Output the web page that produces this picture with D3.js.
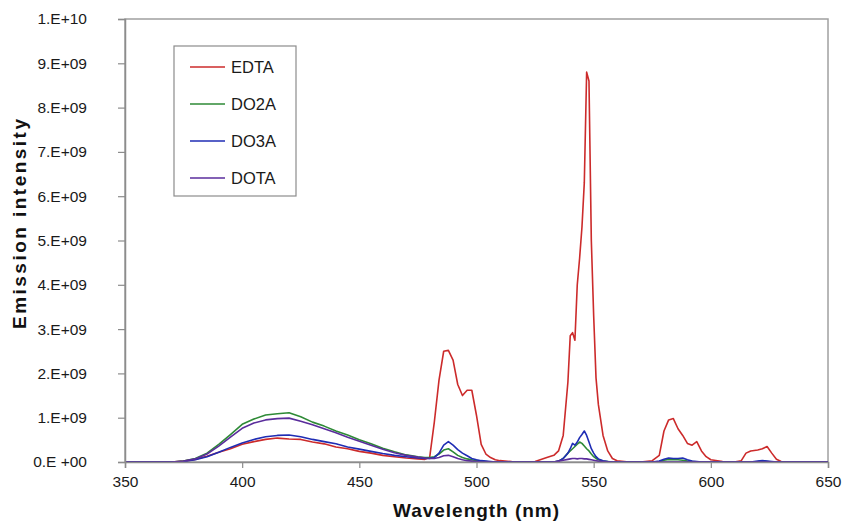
<!DOCTYPE html>
<html>
<head>
<meta charset="utf-8">
<script src="https://cdn.jsdelivr.net/npm/d3@7"></script>
<style>
  html, body { margin: 0; padding: 0; background: #fff; }
  svg { display: block; font-family: Arial, "Liberation Sans", sans-serif; }
</style>
</head>
<body>
<svg id="chart" width="844" height="524"></svg>
<script>
// Emission spectra of the four complexes; intensities in units of 1e9.
const wavelengths = [350,360,370,375,380,385,390,395,400,405,410,415,420,425,430,435,440,445,450,455,460,465,470,475,478,480,482,484,486,488,490,492,494,496,498,500,502,504,506,508,510,515,520,525,530,533,535,537,539,540,541,542,543,544,545,546,547,548,549,550,551,552,554,556,558,560,565,570,575,578,580,582,584,586,588,590,592,594,596,598,600,605,610,613,615,617,620,622,624,626,628,630,635,640,645,650];

const edta = [0,0,0,0.02,0.06,0.13,0.22,0.30,0.40,0.46,0.51,0.54,0.52,0.51,0.45,0.41,0.34,0.30,0.24,0.20,0.15,0.12,0.09,0.07,0.06,0.10,0.90,1.85,2.50,2.52,2.30,1.75,1.50,1.62,1.62,1.05,0.40,0.18,0.10,0.05,0.03,0.01,0,0.01,0.10,0.15,0.25,0.60,1.80,2.85,2.92,2.75,4.00,4.60,5.30,6.30,8.80,8.60,5.00,3.30,1.90,1.30,0.60,0.25,0.08,0.03,0,0,0.03,0.15,0.70,0.95,0.98,0.75,0.60,0.42,0.38,0.46,0.25,0.12,0.05,0.01,0,0.03,0.20,0.25,0.27,0.30,0.35,0.20,0.06,0.01,0,0,0,0];

const do2a = [0,0,0,0.02,0.08,0.20,0.40,0.62,0.85,0.97,1.06,1.09,1.11,1.02,0.90,0.81,0.70,0.61,0.50,0.41,0.31,0.23,0.16,0.12,0.10,0.10,0.12,0.18,0.27,0.30,0.23,0.15,0.10,0.07,0.05,0.03,0.02,0.01,0,0,0,0,0,0,0,0,0.02,0.08,0.20,0.25,0.30,0.35,0.40,0.45,0.42,0.36,0.30,0.25,0.18,0.12,0.08,0.05,0.02,0.01,0,0,0,0,0,0.01,0.04,0.06,0.05,0.05,0.04,0.02,0.01,0,0,0,0,0,0,0,0,0,0.01,0.02,0.01,0,0,0,0,0,0,0];

const do3a = [0,0,0,0.01,0.05,0.12,0.22,0.33,0.43,0.51,0.57,0.60,0.61,0.57,0.51,0.46,0.41,0.34,0.29,0.24,0.19,0.15,0.12,0.09,0.08,0.08,0.10,0.20,0.38,0.46,0.38,0.28,0.20,0.14,0.08,0.05,0.03,0.02,0.01,0,0,0,0,0,0,0,0.02,0.08,0.20,0.30,0.42,0.38,0.45,0.55,0.62,0.70,0.60,0.45,0.30,0.20,0.12,0.07,0.03,0.01,0,0,0,0,0,0.02,0.06,0.09,0.08,0.08,0.09,0.05,0.02,0.01,0,0,0,0,0,0,0,0,0.02,0.03,0.02,0.01,0,0,0,0,0,0];

const dota = [0,0,0,0.02,0.07,0.18,0.36,0.56,0.76,0.88,0.95,0.98,0.99,0.92,0.84,0.75,0.66,0.56,0.47,0.38,0.29,0.21,0.15,0.11,0.09,0.08,0.08,0.10,0.14,0.15,0.12,0.08,0.05,0.03,0.02,0.01,0,0,0,0,0,0,0,0,0,0,0.02,0.04,0.06,0.07,0.08,0.08,0.07,0.08,0.08,0.07,0.07,0.06,0.05,0.04,0.03,0.02,0.01,0,0,0,0,0,0,0,0,0,0,0,0,0,0,0,0,0,0,0,0,0,0,0,0,0,0,0,0,0,0,0,0,0];

const seriesNames = ["EDTA", "DO2A", "DO3A", "DOTA"];
const seriesValues = [edta, do2a, do3a, dota];
const seriesColors = ["#cc2b2b", "#2e8a36", "#1f2db4", "#5a2d9c"];

const xTicks = [350, 400, 450, 500, 550, 600, 650];
const yTicks = [0,1,2,3,4,5,6,7,8,9,10];
const yTickLabels = ["0.E +00","1.E+09","2.E+09","3.E+09","4.E+09","5.E+09","6.E+09","7.E+09","8.E+09","9.E+09","1.E+10"];

const svg = d3.select("#chart");
const plot = { left: 125, right: 828, top: 19, bottom: 462 };

const x = d3.scaleLinear().domain([350, 650]).range([plot.left, plot.right]);
const y = d3.scaleLinear().domain([0, 10]).range([plot.bottom, plot.top]);

// plot frame
svg.append("rect")
  .attr("x", plot.left).attr("y", plot.top)
  .attr("width", plot.right - plot.left).attr("height", plot.bottom - plot.top)
  .attr("fill", "none").attr("stroke", "#a0a0a0").attr("stroke-width", 1.5);

// spectra
const line = d3.line()
  .x((d, i) => x(wavelengths[i]))
  .y(d => y(d));

seriesValues.forEach((vals, k) => {
  svg.append("path")
    .datum(vals)
    .attr("fill", "none")
    .attr("stroke", seriesColors[k])
    .attr("stroke-width", 1.6)
    .attr("stroke-linejoin", "round")
    .attr("d", line);
});

// axes
const xAxis = svg.append("g")
  .attr("transform", `translate(0,${plot.bottom})`)
  .call(d3.axisBottom(x).tickValues(xTicks).tickSize(6).tickPadding(8).tickFormat(d3.format("d")));
const yAxis = svg.append("g")
  .attr("transform", `translate(${plot.left},0)`)
  .call(d3.axisLeft(y).tickValues(yTicks).tickSize(7).tickPadding(31).tickFormat((d, i) => yTickLabels[i]));

[xAxis, yAxis].forEach(g => {
  g.select(".domain").attr("stroke", "#8c8c8c").attr("stroke-width", 1.5);
  g.selectAll(".tick line").attr("stroke", "#8c8c8c").attr("stroke-width", 1.2);
  g.selectAll(".tick text").attr("fill", "#1a1a1a").attr("font-size", 15.5)
    .attr("font-family", "Arial, 'Liberation Sans', sans-serif");
});

// axis titles
svg.append("text")
  .attr("x", 476).attr("y", 517)
  .attr("text-anchor", "middle")
  .attr("font-size", 19).attr("font-weight", "bold").attr("fill", "#111")
  .attr("textLength", 166).attr("lengthAdjust", "spacing")
  .text("Wavelength (nm)");

svg.append("text")
  .attr("transform", "translate(26,224) rotate(-90)")
  .attr("text-anchor", "middle")
  .attr("font-size", 19).attr("font-weight", "bold").attr("fill", "#111")
  .attr("textLength", 210).attr("lengthAdjust", "spacing")
  .text("Emission intensity");

// legend
const legend = svg.append("g");
legend.append("rect")
  .attr("x", 174).attr("y", 46).attr("width", 122).attr("height", 150)
  .attr("fill", "#fff").attr("stroke", "#8c8c8c").attr("stroke-width", 1.2);

seriesNames.forEach((name, k) => {
  const ry = 67 + k * 37;
  legend.append("line")
    .attr("x1", 190).attr("x2", 225).attr("y1", ry).attr("y2", ry)
    .attr("stroke", seriesColors[k]).attr("stroke-width", 1.5);
  legend.append("text")
    .attr("x", 231).attr("y", ry).attr("dy", "0.35em")
    .attr("font-size", 16.5).attr("fill", "#1a1a1a")
    .text(name);
});
</script>
</body>
</html>
